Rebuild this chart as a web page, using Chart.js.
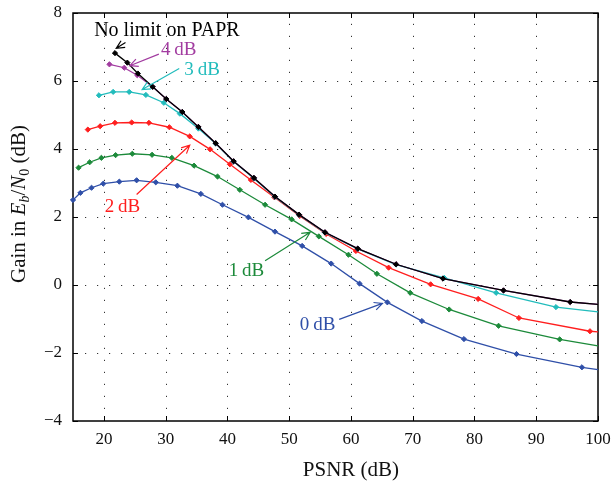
<!DOCTYPE html>
<html>
<head>
<meta charset="utf-8">
<script src="https://cdn.jsdelivr.net/npm/chart.js@4/dist/chart.umd.min.js"></script>
<style>
  body { margin: 0; background: #fff; }
  #wrap { width: 614px; height: 483px; }
</style>
</head>
<body>
<div id="wrap"><canvas id="gain-chart" width="614" height="483"></canvas></div>
<script>
// PSNR (dB) and gain (dB), one pair of arrays per PAPR limit
var psnrNoLimit = [21.8, 23.8, 25.5, 27.9, 30.1, 32.7, 35.3, 38.1, 41.0, 44.3, 47.7, 51.6, 55.8, 61.1, 67.3, 74.9, 84.7, 95.5, 100];
var gainNoLimit = [6.82, 6.54, 6.22, 5.83, 5.47, 5.09, 4.65, 4.17, 3.64, 3.15, 2.60, 2.07, 1.55, 1.07, 0.61, 0.19, -0.16, -0.50, -0.57];

var psnr4dB = [20.9, 23.3, 25.4, 27.9, 30.1, 32.7, 35.3, 38.1, 41.0, 44.3, 47.7, 51.6, 55.8, 61.1, 67.3, 74.9, 84.7, 95.5, 100];
var gain4dB = [6.49, 6.39, 6.17, 5.83, 5.47, 5.09, 4.65, 4.17, 3.64, 3.15, 2.60, 2.07, 1.55, 1.07, 0.61, 0.19, -0.16, -0.50, -0.57];

var psnr3dB = [19.2, 21.5, 24.1, 26.8, 29.7, 32.3, 35.3, 38.1, 41.0, 44.3, 47.7, 51.6, 55.8, 61.1, 67.3, 75.1, 83.5, 93.2, 100];
var gain3dB = [5.58, 5.68, 5.68, 5.59, 5.36, 5.04, 4.60, 4.16, 3.63, 3.13, 2.59, 2.06, 1.54, 1.06, 0.60, 0.21, -0.23, -0.65, -0.79];

var psnr2dB = [17.4, 19.4, 21.8, 24.5, 27.3, 30.6, 33.9, 37.2, 40.4, 43.8, 47.6, 51.7, 56.0, 60.8, 66.1, 72.9, 80.6, 87.2, 98.7, 100];
var gain2dB = [4.57, 4.67, 4.77, 4.78, 4.77, 4.64, 4.37, 3.99, 3.55, 3.09, 2.58, 2.03, 1.50, 1.00, 0.51, 0.02, -0.41, -0.97, -1.36, -1.38];

var psnr1dB = [15.9, 17.7, 19.6, 21.9, 24.6, 27.8, 31.0, 34.6, 38.4, 42.0, 46.1, 50.4, 54.8, 59.6, 64.2, 69.6, 75.9, 83.9, 93.8, 100];
var gain1dB = [3.45, 3.61, 3.74, 3.82, 3.86, 3.83, 3.74, 3.51, 3.19, 2.80, 2.36, 1.93, 1.43, 0.89, 0.33, -0.23, -0.72, -1.20, -1.60, -1.79];

var psnr0dB = [15.0, 16.2, 18.0, 19.9, 22.5, 25.3, 28.4, 31.9, 35.7, 39.2, 43.4, 47.7, 52.1, 56.8, 61.4, 65.9, 71.5, 78.3, 86.8, 97.4, 100];
var gain0dB = [2.50, 2.71, 2.86, 2.98, 3.04, 3.08, 3.02, 2.92, 2.68, 2.36, 1.99, 1.57, 1.15, 0.63, 0.04, -0.51, -1.06, -1.59, -2.03, -2.42, -2.49];

var seriesNames = ["No limit on PAPR", "4 dB", "3 dB", "2 dB", "1 dB", "0 dB"];
var seriesColors = ["#000000", "#a23ca0", "#22bcbc", "#ff1e1e", "#1c8a3a", "#2f4fa8"];

var xTicks = [20, 30, 40, 50, 60, 70, 80, 90, 100];
var yTicks = [-4, -2, 0, 2, 4, 6, 8];

// callout labels: text anchor, arrow tail, arrow tip (data units)
var noteText = ["No limit on PAPR", "4\u2009dB", "3\u2009dB", "2\u2009dB", "1\u2009dB", "0\u2009dB"];
var noteAt = [[30.2, 7.33], [32.1, 6.77], [35.9, 6.17], [23.0, 2.14], [43.1, 0.27], [54.6, -1.33]];
var noteTail = [[23.5, 7.13], [28.9, 6.79], [32.2, 6.37], [25.3, 2.66], [46.1, 0.71], [58.1, -1.01]];
var noteTip = [[22.0, 6.96], [24.2, 6.45], [26.2, 5.75], [33.9, 4.11], [53.4, 1.55], [65.1, -0.54]];
var noteSize = [20, 19, 19, 19, 19, 19];

function toPoints(xs, ys) {
    var pts = [];
    for (var i = 0; i < xs.length; i++) {
        pts.push({x: xs[i], y: ys[i]});
    }
    return pts;
}

// no marker on the point where the line meets the right edge
function radii(xs) {
    return xs.map(function (v) { return v >= 100 ? 0 : 2.6; });
}

var allX = [psnrNoLimit, psnr4dB, psnr3dB, psnr2dB, psnr1dB, psnr0dB];
var allY = [gainNoLimit, gain4dB, gain3dB, gain2dB, gain1dB, gain0dB];

var datasets = [];
for (var s = 0; s < allX.length; s++) {
    datasets.push({
        label: seriesNames[s],
        data: toPoints(allX[s], allY[s]),
        borderColor: seriesColors[s],
        backgroundColor: seriesColors[s],
        borderWidth: 1.3,
        pointStyle: 'rectRot',
        pointRadius: radii(allX[s]),
        pointBorderWidth: 1,
        pointBorderColor: seriesColors[s],
        pointBackgroundColor: seriesColors[s],
        tension: 0,
        clip: false
    });
}

var serif = "'Liberation Serif', 'Times New Roman', serif";

var frame = {
    id: 'frame',
    beforeDatasetsDraw: function (chart) {
        var ctx = chart.ctx;
        var a = chart.chartArea;
        var xs = chart.scales.x, ys = chart.scales.y;
        ctx.save();
        ctx.strokeStyle = '#333';
        ctx.lineWidth = 1;
        ctx.setLineDash([1.2, 10.8]);
        xTicks.forEach(function (v) {
            if (v >= 100) return;
            var px = Math.round(xs.getPixelForValue(v)) + 0.5;
            ctx.beginPath();
            ctx.moveTo(px, a.bottom);
            ctx.lineTo(px, a.top);
            ctx.stroke();
        });
        yTicks.forEach(function (v) {
            if (v <= -4 || v >= 8) return;
            var py = Math.round(ys.getPixelForValue(v)) + 0.5;
            ctx.beginPath();
            ctx.moveTo(a.left, py);
            ctx.lineTo(a.right, py);
            ctx.stroke();
        });
        ctx.setLineDash([]);
        ctx.strokeStyle = '#000';
        ctx.lineWidth = 1;
        // inward tick marks on all four sides
        xTicks.forEach(function (v) {
            var px = Math.round(xs.getPixelForValue(v)) + 0.5;
            ctx.beginPath();
            ctx.moveTo(px, a.bottom); ctx.lineTo(px, a.bottom - 5);
            ctx.moveTo(px, a.top); ctx.lineTo(px, a.top + 5);
            ctx.stroke();
        });
        yTicks.forEach(function (v) {
            var py = Math.round(ys.getPixelForValue(v)) + 0.5;
            ctx.beginPath();
            ctx.moveTo(a.left, py); ctx.lineTo(a.left + 5, py);
            ctx.moveTo(a.right, py); ctx.lineTo(a.right - 5, py);
            ctx.stroke();
        });
        ctx.lineWidth = 1.5;
        ctx.strokeRect(a.left, a.top, a.right - a.left, a.bottom - a.top);
        ctx.restore();
    },
    afterDraw: function (chart) {
        var ctx = chart.ctx;
        var xs = chart.scales.x, ys = chart.scales.y;
        ctx.save();

        // callouts
        for (var i = 0; i < noteText.length; i++) {
            var col = seriesColors[i];
            var tx = xs.getPixelForValue(noteTail[i][0]), ty = ys.getPixelForValue(noteTail[i][1]);
            var hx = xs.getPixelForValue(noteTip[i][0]), hy = ys.getPixelForValue(noteTip[i][1]);
            ctx.strokeStyle = col;
            ctx.lineWidth = 1.2;
            ctx.beginPath();
            ctx.moveTo(tx, ty);
            ctx.lineTo(hx, hy);
            var ang = Math.atan2(hy - ty, hx - tx);
            var len = 9, spread = 0.45;
            ctx.moveTo(hx - len * Math.cos(ang - spread), hy - len * Math.sin(ang - spread));
            ctx.lineTo(hx, hy);
            ctx.lineTo(hx - len * Math.cos(ang + spread), hy - len * Math.sin(ang + spread));
            ctx.stroke();

            ctx.fillStyle = col;
            ctx.font = noteSize[i] + "px " + serif;
            ctx.textAlign = 'center';
            ctx.textBaseline = 'alphabetic';
            ctx.fillText(noteText[i], xs.getPixelForValue(noteAt[i][0]), ys.getPixelForValue(noteAt[i][1]));
        }

        // x axis title
        ctx.fillStyle = '#111';
        ctx.font = "21px " + serif;
        ctx.textAlign = 'center';
        ctx.textBaseline = 'alphabetic';
        ctx.fillText("PSNR (dB)", xs.getPixelForValue(60), 476);

        // y axis title with italic E_b / N_0
        var parts = [
            {t: "Gain in ", f: "21px " + serif, dy: 0},
            {t: "E", f: "italic 21px " + serif, dy: 0},
            {t: "b", f: "italic 14px " + serif, dy: 4},
            {t: "/", f: "21px " + serif, dy: 0},
            {t: "N", f: "italic 21px " + serif, dy: 0},
            {t: "0", f: "14px " + serif, dy: 4},
            {t: " (dB)", f: "21px " + serif, dy: 0}
        ];
        var total = 0;
        parts.forEach(function (p) { ctx.font = p.f; p.w = ctx.measureText(p.t).width; total += p.w; });
        ctx.translate(25, 204);
        ctx.rotate(-Math.PI / 2);
        ctx.textAlign = 'left';
        var cx = -total / 2;
        parts.forEach(function (p) {
            ctx.font = p.f;
            ctx.fillText(p.t, cx, p.dy);
            cx += p.w;
        });
        ctx.restore();
    }
};

new Chart(document.getElementById("gain-chart"), {
    type: 'line',
    data: { datasets: datasets },
    plugins: [frame],
    options: {
        responsive: false,
        devicePixelRatio: 1,
        animation: false,
        layout: { padding: { left: 0, right: 16, top: 13, bottom: 0 } },
        plugins: {
            legend: { display: false },
            tooltip: { enabled: false }
        },
        scales: {
            x: {
                type: 'linear',
                min: 15,
                max: 100,
                afterBuildTicks: function (scale) {
                    scale.ticks = xTicks.map(function (v) { return {value: v}; });
                },
                afterFit: function (scale) {
                    scale.height = 62;
                    scale.paddingLeft = 0;
                    scale.paddingRight = 0;
                },
                grid: { display: false, drawTicks: false },
                border: { display: false },
                ticks: {
                    color: '#111',
                    padding: 8,
                    maxRotation: 0,
                    font: { family: serif, size: 17 }
                }
            },
            y: {
                type: 'linear',
                min: -4,
                max: 8,
                afterBuildTicks: function (scale) {
                    scale.ticks = yTicks.map(function (v) { return {value: v}; });
                },
                afterFit: function (scale) {
                    scale.width = 73;
                    scale.paddingTop = 0;
                    scale.paddingBottom = 0;
                },
                grid: { display: false, drawTicks: false },
                border: { display: false },
                ticks: {
                    color: '#111',
                    padding: 11,
                    font: { family: serif, size: 17 },
                    callback: function (v) { return v < 0 ? "\u2212" + Math.abs(v) : String(v); }
                }
            }
        }
    }
});
</script>
</body>
</html>
